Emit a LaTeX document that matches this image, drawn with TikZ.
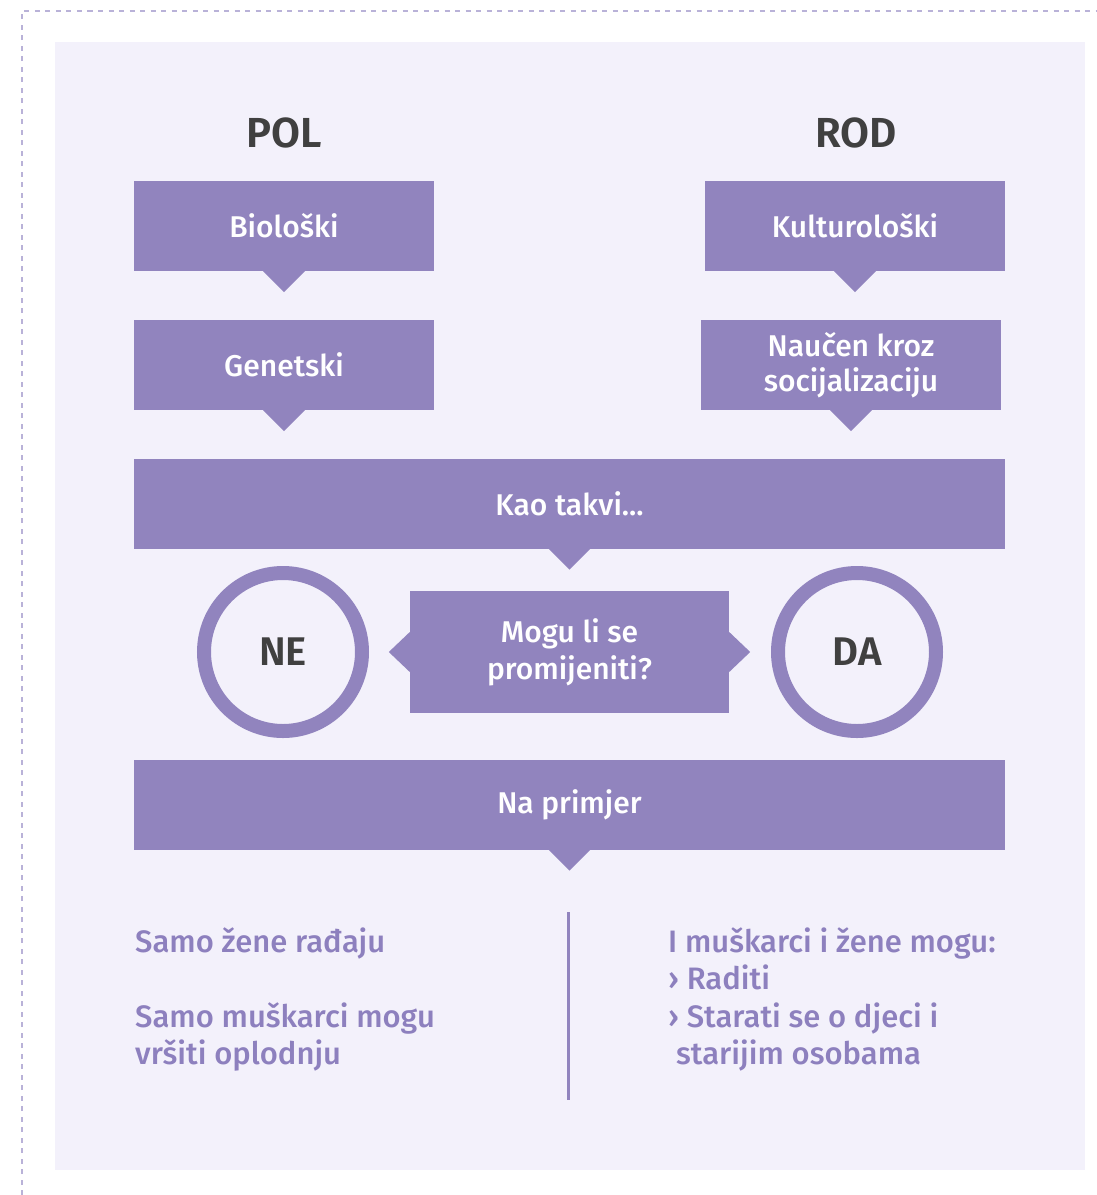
\documentclass[tikz,border=0pt]{standalone}
\usepackage{fontspec}
\setmainfont{Fira Sans}[UprightFont=* Medium, BoldFont=* SemiBold]
\usetikzlibrary{positioning}

\definecolor{boxpurple}{RGB}{145,132,190}
\definecolor{panelbg}{RGB}{243,241,251}
\definecolor{headgray}{RGB}{64,64,64}
\definecolor{textpurple}{RGB}{141,128,190}
\definecolor{dashpurple}{RGB}{185,178,216}

\tikzset{
  purplebox/.style={fill=boxpurple, text=white, minimum width=300pt, minimum height=90pt,
    inner sep=0pt, align=center, font=\fontsize{30}{35}\selectfont},
  widebox/.style={purplebox, minimum width=871pt},
  heading/.style={text=headgray, font=\fontsize{42}{42}\selectfont\bfseries},
  ring/.style={draw=boxpurple, line width=14pt, circle, minimum size=158pt, inner sep=0pt,
    text=headgray, font=\fontsize{40}{40}\selectfont\bfseries},
  bodytext/.style={text=textpurple, align=left, inner sep=0pt, anchor=north west,
    font=\fontsize{31}{37.5}\selectfont}
}
% small triangle under a box
\newcommand{\pointdown}[1]{\fill[boxpurple] ([xshift=-21pt]#1.south) -- ([xshift=21pt]#1.south) -- ([yshift=-21pt]#1.south) -- cycle;}

\begin{document}
\begin{tikzpicture}[x=1pt,y=-1pt]
\useasboundingbox (0,0) rectangle (1097,1195);
\fill[panelbg] (55,42) rectangle (1085,1170);
\draw[dashpurple, line width=2pt, dash pattern=on 5pt off 5.5pt] (22,1195) -- (22,11) -- (1097,11);

\node[heading] (pol) at (284,133) {POL};
\node[heading] (rod) at (856,133) {ROD};

\node[purplebox] (bio) at (284,226) {Biološki};
\node[purplebox] (gen) at (284,365) {Genetski};
\node[purplebox] (kult) at (855,226) {Kulturološki};
\node[purplebox] (nauc) at (851,365) {Naučen kroz\\socijalizaciju};
\pointdown{bio}
\pointdown{gen}
\pointdown{kult}
\pointdown{nauc}

\node[widebox] (kao) at (569.5,503.5) {Kao takvi...};
\pointdown{kao}

\node[purplebox, minimum width=319pt, minimum height=122pt, font=\fontsize{30}{37}\selectfont] (mogu) at (569.5,652) {Mogu li se\\promijeniti?};
\fill[boxpurple] ([yshift=20pt]mogu.west) -- ([yshift=-20pt]mogu.west) -- ([xshift=-21pt]mogu.west) -- cycle;
\fill[boxpurple] ([yshift=20pt]mogu.east) -- ([yshift=-20pt]mogu.east) -- ([xshift=21pt]mogu.east) -- cycle;

\node[ring] (ne) at (283,652) {NE};
\node[ring] (da) at (857,652) {DA};

\node[widebox] (primjer) at (569.5,804.5) {Na primjer};
\pointdown{primjer}

\coordinate (divtop) at (568,912);
\coordinate (divbot) at (568,1100);
\draw[boxpurple, line width=3pt] (divtop) -- (divbot);

\node[bodytext] (pollist) at (135,927) {Samo žene rađaju\\[37.5pt]Samo muškarci mogu\\vršiti oplodnju};
\node[bodytext] (rodlist) at (668,927) {I muškarci i žene mogu:\\› Raditi\\› Starati se o djeci i\\\hspace*{8pt}starijim osobama};
\end{tikzpicture}
\end{document}
